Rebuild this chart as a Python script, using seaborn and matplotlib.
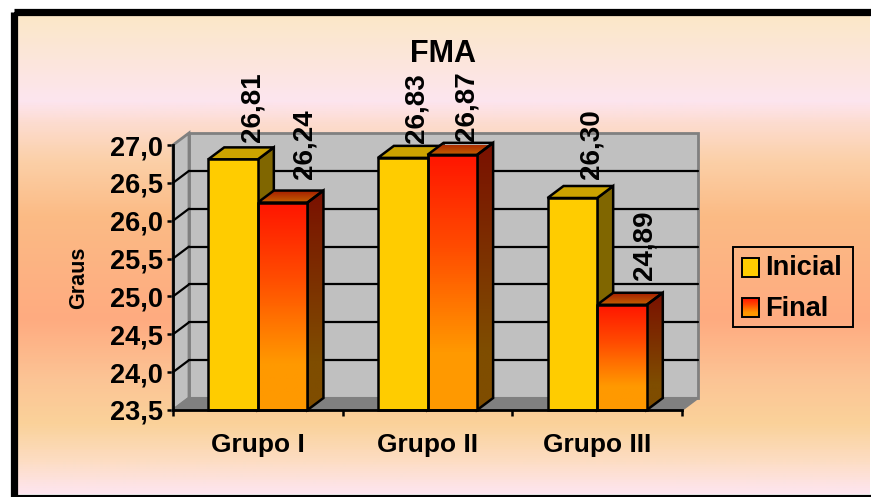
import numpy as np
import pandas as pd
import matplotlib
matplotlib.use("Agg")
import matplotlib.pyplot as plt
from matplotlib.patches import Polygon, Rectangle
from matplotlib.colors import LinearSegmentedColormap
import seaborn as sns

groups = ["Grupo I", "Grupo II", "Grupo III"]
inicial = [26.81, 26.83, 26.30]
final = [26.24, 26.87, 24.89]
series_names = ["Inicial", "Final"]
title = "FMA"
y_label = "Graus"
y_ticks = [23.5, 24.0, 24.5, 25.0, 25.5, 26.0, 26.5, 27.0]

W, H = 871, 497
sns.set_style("white")
plt.rcParams["font.family"] = ["Liberation Sans", "DejaVu Sans"]
plt.rcParams["font.weight"] = "bold"
plt.rcParams["text.color"] = "black"
plt.rcParams["xtick.color"] = "black"
plt.rcParams["ytick.color"] = "black"

fig = plt.figure(figsize=(W / 100, H / 100), dpi=100, facecolor="white")


def px_axes(x0, y0, x1, y1, **kw):
    return fig.add_axes([x0 / W, 1 - y1 / H, (x1 - x0) / W, (y1 - y0) / H], **kw)


# Page backdrop with horizontal colour bands inside a thick black frame
bg = px_axes(0, 0, W, H)
bg.set_xlim(0, W)
bg.set_ylim(H, 0)
bg.axis("off")
stops = [(15, "#FBE8C8"), (60, "#FCE6DC"), (100, "#FDE5EF"), (122, "#FDDCD0"),
         (160, "#FBD0A8"), (215, "#FBBB85"), (320, "#FFAB80"), (380, "#FCC495"),
         (425, "#FAD29A"), (460, "#FDDCC0"), (494, "#FDE5EF")]
band = LinearSegmentedColormap.from_list(
    "band", [((y - 15) / (494 - 15), c) for y, c in stops])
bg.imshow(np.linspace(0, 1, 480)[:, None], cmap=band, aspect="auto",
          extent=(17, 869, 494, 15), zorder=0)
bg.set_xlim(0, W)
bg.set_ylim(H, 0)
bg.add_patch(Rectangle((13.5, 11.5), 859, 486, fill=False, ec="black", lw=5.2, zorder=1))

# Front plane of the chart
x0, x1, y_base, y_top = 173, 682, 410, 145
ax = px_axes(x0, y_top, x1, y_base)
ax.patch.set_alpha(0)
ymin, ymax, xmin, xmax = 23.5, 27.0, -0.5, 2.5
ax.set_xlim(xmin, xmax)
ax.set_ylim(ymin, ymax)

# Depth of the pseudo-3D extrusion, expressed in data units
dx = 16 / ((x1 - x0) / 3)
dy = 12 / ((y_base - y_top) / 3.5)
GRAY_EDGE = "#808080"

# Chart walls and floor
ax.add_patch(Polygon([(xmin + dx, ymin + dy), (xmax + dx, ymin + dy),
                      (xmax + dx, ymax + dy), (xmin + dx, ymax + dy)],
                     fc="#C0C0C0", ec=GRAY_EDGE, lw=2, zorder=1, clip_on=False))
ax.add_patch(Polygon([(xmin, ymin), (xmin + dx, ymin + dy), (xmin + dx, ymax + dy), (xmin, ymax)],
                     fc="#C0C0C0", ec=GRAY_EDGE, lw=2, zorder=1, clip_on=False))
ax.add_patch(Polygon([(xmin, ymin), (xmin + dx, ymin + dy), (xmax + dx, ymin + dy), (xmax, ymin)],
                     fc="#808080", ec=GRAY_EDGE, lw=1.5, zorder=1, clip_on=False))

# Gridlines run along the back wall and down the left wall
for t in y_ticks[1:-1]:
    ax.plot([xmin + dx, xmax + dx], [t + dy, t + dy], color="black", lw=1.6, zorder=2, clip_on=False)
    ax.plot([xmin, xmin + dx], [t, t + dy], color="black", lw=1.6, zorder=2, clip_on=False)

frame = pd.DataFrame({
    "grupo": groups * 2,
    "serie": [series_names[0]] * 3 + [series_names[1]] * 3,
    "valor": inicial + final,
})
sns.barplot(data=frame, x="grupo", y="valor", hue="serie", hue_order=series_names,
            palette=["#FFCC00", "#FF9900"], saturation=1, width=0.585, gap=0, dodge=True, ax=ax,
            edgecolor="black", linewidth=1.8, legend=False, zorder=5)
ax.set_xlim(xmin, xmax)
ax.set_ylim(ymin, ymax)

red_orange = LinearSegmentedColormap.from_list(
    "ro", [(0, "#FF1500"), (0.35, "#FF4A00"), (0.78, "#FF9900"), (1, "#FF9900")])
side_grad = LinearSegmentedColormap.from_list(
    "side", [(0, "#7A1000"), (0.78, "#7F4D00"), (1, "#7F4D00")])
top_grad = LinearSegmentedColormap.from_list("topg", ["#A62000", "#C46200"])


def shaded(poly_pts, cmap, extent, z):
    """Fill a polygon with a vertical gradient by clipping an image to it."""
    im = ax.imshow(np.linspace(0, 1, 128)[:, None], cmap=cmap, aspect="auto",
                   extent=extent, zorder=z, origin="upper")
    poly = Polygon(poly_pts, transform=ax.transData, fc="none", ec="none")
    ax.add_patch(poly)
    im.set_clip_path(poly)
    ax.add_patch(Polygon(poly_pts, fc="none", ec="black", lw=1.8, zorder=z + 0.2,
                         clip_on=False, joinstyle="miter"))


# Per-bar placement of the rotated value labels, in pixels: sideways shift and gap above the bar
label_shift = [19, 22, 14, 14, 19, 23]
label_gap = [17, 24, 15, 14, 19, 25]

bars = sorted([b for b in ax.patches if isinstance(b, Rectangle) and b.get_width() < 0.5],
              key=lambda b: b.get_x())
for i, b in enumerate(bars):
    left, w = b.get_x(), b.get_width()
    top = b.get_height()
    is_final = i % 2 == 1
    z = 5 + i * 0.01
    # Bars rest on the axis floor rather than on zero
    b.set_y(ymin)
    b.set_height(top - ymin)
    b.set_zorder(z + 0.5)
    right = left + w
    side = [(right, ymin), (right + dx, ymin + dy), (right + dx, top + dy), (right, top)]
    cap = [(left, top), (left + dx, top + dy), (right + dx, top + dy), (right, top)]
    if is_final:
        shaded(side, side_grad, (right, right + dx, ymin, top + dy), z)
        shaded(cap, top_grad, (left, right + dx, top, top + dy), z)
        b.set_facecolor("none")
        im = ax.imshow(np.linspace(0, 1, 128)[:, None], cmap=red_orange, aspect="auto",
                       extent=(left, right, ymin, top), zorder=z + 0.3, origin="upper")
        im.set_clip_path(b)
    else:
        ax.add_patch(Polygon(side, fc="#806600", ec="black", lw=1.8, zorder=z, clip_on=False))
        ax.add_patch(Polygon(cap, fc="#CCA300", ec="black", lw=1.8, zorder=z, clip_on=False))
    b.set_clip_on(False)
    ax.annotate(f"{top:.2f}".replace(".", ","), (left + w / 2, top),
                xytext=(label_shift[i] * 0.72, label_gap[i] * 0.72), textcoords="offset points",
                rotation=90, ha="center", va="bottom", fontsize=20, fontweight="bold",
                zorder=20, annotation_clip=False)
ax.set_xlim(xmin, xmax)
ax.set_ylim(ymin, ymax)

# Axes
for s in ["top", "right"]:
    ax.spines[s].set_visible(False)
for s in ["left", "bottom"]:
    ax.spines[s].set_visible(True)
    ax.spines[s].set_color("black")
    ax.spines[s].set_linewidth(2)
    ax.spines[s].set_zorder(15)
ax.set_yticks(y_ticks, [f"{t:.1f}".replace(".", ",") for t in y_ticks], fontsize=19.5, fontweight="bold")
ax.set_xticks([-0.5, 0.5, 1.5, 2.5], [""] * 4)
ax.tick_params(axis="y", length=4, width=1.8, color="black", pad=3, left=True)
ax.tick_params(axis="x", length=4, width=1.8, color="black", bottom=True)
ax.set_xlabel("")
ax.set_ylabel("")
for i, g in enumerate(groups):
    ax.annotate(g, (i, 0), xycoords=("data", "axes fraction"), xytext=(0, -25.5),
                textcoords="offset points", ha="center", va="center", fontsize=19, fontweight="bold")

bg.text(79, 278, y_label, rotation=90, ha="center", va="center", fontsize=15.5, fontweight="bold")
fig.text(443 / W, 1 - 54 / H, title, ha="center", va="center", fontsize=22, fontweight="bold", zorder=30)

# Legend box
leg = px_axes(0, 0, W, H)
leg.set_xlim(0, W)
leg.set_ylim(H, 0)
leg.axis("off")
leg.patch.set_alpha(0)
leg.add_patch(Rectangle((732.5, 246.5), 120.5, 80, fill=False, ec="black", lw=1.4))
leg.add_patch(Rectangle((742, 258), 16.5, 19, fc="#FFCC00", ec="black", lw=1.4))
leg.add_patch(Rectangle((742, 298), 16.5, 19, fc="none", ec="black", lw=1.4, zorder=3))
leg.imshow(np.linspace(0, 1, 32)[:, None], cmap=red_orange, aspect="auto",
           extent=(742, 758.5, 317, 298), zorder=2)
leg.set_xlim(0, W)
leg.set_ylim(H, 0)
leg.text(765, 268, series_names[0], ha="left", va="center", fontsize=19.5, fontweight="bold")
leg.text(765, 309, series_names[1], ha="left", va="center", fontsize=19.5, fontweight="bold")

fig.savefig("out.png", dpi=100)
